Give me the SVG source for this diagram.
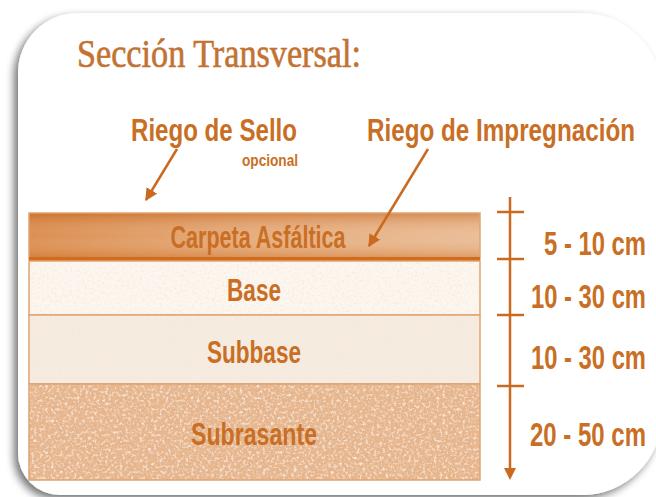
<svg xmlns="http://www.w3.org/2000/svg" width="656" height="497" viewBox="0 0 656 497">
  <defs>
    <style>
      .lbl { font-family: "Liberation Sans", Arial, sans-serif; font-weight: bold; fill: #c96f25; }
      .title { font-family: "Liberation Serif", "Times New Roman", serif; fill: #c27233; stroke: #c27233; stroke-width: 0.6; }
      .conn { stroke: #c96a20; stroke-width: 2.5; fill: none; }
      .tick { stroke: #c96a20; stroke-width: 2.5; }
      .edge { stroke: #e0a470; stroke-width: 1.5; fill: none; }
    </style>
    <filter id="shadow" x="-10%" y="-10%" width="120%" height="120%">
      <feGaussianBlur in="SourceAlpha" stdDeviation="4"/>
      <feOffset dx="-4" dy="4" result="b"/>
      <feComponentTransfer><feFuncA type="linear" slope="0.55"/></feComponentTransfer>
      <feMerge><feMergeNode/><feMergeNode in="SourceGraphic"/></feMerge>
    </filter>
    <filter id="speck" x="0" y="0" width="100%" height="100%">
      <feTurbulence type="fractalNoise" baseFrequency="0.45" numOctaves="3" seed="4" result="n"/>
      <feColorMatrix in="n" type="matrix" values="0 0 0 0 0.82  0 0 0 0 0.56  0 0 0 0 0.36  0 0 0 2.6 -1.25" result="c"/>
      <feComposite in="c" in2="SourceGraphic" operator="in" result="t"/>
      <feTurbulence type="fractalNoise" baseFrequency="0.35" numOctaves="3" seed="11" result="n2"/>
      <feColorMatrix in="n2" type="matrix" values="0 0 0 0 0.97  0 0 0 0 0.86  0 0 0 0 0.76  0 0 0 2.6 -1.3" result="c2"/>
      <feComposite in="c2" in2="SourceGraphic" operator="in" result="t2"/>
      <feMerge><feMergeNode in="SourceGraphic"/><feMergeNode in="t"/><feMergeNode in="t2"/></feMerge>
    </filter>
    <filter id="speckLight" x="0" y="0" width="100%" height="100%">
      <feTurbulence type="fractalNoise" baseFrequency="0.4" numOctaves="3" seed="7" result="n"/>
      <feColorMatrix in="n" type="matrix" values="0 0 0 0 0.90  0 0 0 0 0.80  0 0 0 0 0.70  0 0 0 2 -1.0" result="c"/>
      <feComposite in="c" in2="SourceGraphic" operator="in" result="t"/>
      <feMerge><feMergeNode in="SourceGraphic"/><feMergeNode in="t"/></feMerge>
    </filter>
    <linearGradient id="carpH" x1="0" y1="0" x2="1" y2="0">
      <stop offset="0" stop-color="#d6803a"/>
      <stop offset="0.5" stop-color="#e3a26c"/>
      <stop offset="1" stop-color="#e8b58a"/>
    </linearGradient>
    <linearGradient id="carpV" x1="0" y1="0" x2="0" y2="1">
      <stop offset="0" stop-color="#c25e15" stop-opacity="0.45"/>
      <stop offset="0.5" stop-color="#ffffff" stop-opacity="0.12"/>
      <stop offset="1" stop-color="#d2762c" stop-opacity="0.5"/>
    </linearGradient>
    <marker id="ah" viewBox="0 0 10 10" refX="9" refY="5" markerWidth="5" markerHeight="5" orient="auto" markerUnits="strokeWidth">
      <path d="M0,0 L10,5 L0,10 z" fill="#c96a20"/>
    </marker>
  </defs>

  <rect width="656" height="497" fill="#ffffff"/>

  <g id="card" filter="url(#shadow)">
    <path d="M78,13 H582 A80,80 0 0 1 662,93 V415 A80,80 0 0 1 582,495 H60 A42,42 0 0 1 18,453 V73 A60,60 0 0 1 78,13 Z" fill="#ffffff"/>
  </g>

  <g id="title">
    <text class="title" x="77" y="67" font-size="39" textLength="284" lengthAdjust="spacingAndGlyphs">Sección Transversal:</text>
  </g>

  <g id="layer-carpeta">
    <rect x="29" y="213" width="451" height="46" fill="url(#carpH)"/>
    <rect x="29" y="213" width="451" height="46" fill="url(#carpV)"/>
    <rect x="29" y="213" width="451" height="46" class="edge"/>
    <line x1="29" y1="259" x2="480" y2="259" stroke="#cf6c1f" stroke-width="4"/>
    <text class="lbl" x="258" y="248" font-size="31" text-anchor="middle" textLength="175" lengthAdjust="spacingAndGlyphs">Carpeta Asfáltica</text>
  </g>

  <g id="layer-base">
    <rect x="29" y="261" width="451" height="54" fill="#fcf6ef" filter="url(#speckLight)"/>
    <rect x="29" y="261" width="451" height="54" class="edge"/>
    <text class="lbl" x="254" y="301" font-size="31" text-anchor="middle" textLength="54" lengthAdjust="spacingAndGlyphs">Base</text>
  </g>

  <g id="layer-subbase">
    <rect x="29" y="315" width="451" height="69" fill="#f6ebe0" filter="url(#speckLight)"/>
    <rect x="29" y="315" width="451" height="69" class="edge"/>
    <text class="lbl" x="254" y="363" font-size="31" text-anchor="middle" textLength="94" lengthAdjust="spacingAndGlyphs">Subbase</text>
  </g>

  <g id="layer-subrasante">
    <rect x="29" y="384" width="451" height="96" fill="#e6b48b" filter="url(#speck)"/>
    <rect x="29" y="384" width="451" height="96" class="edge"/>
    <text class="lbl" x="254" y="445" font-size="31" text-anchor="middle" textLength="126" lengthAdjust="spacingAndGlyphs">Subrasante</text>
  </g>

  <g id="riego-sello">
    <text class="lbl" x="131" y="141" font-size="32" textLength="166" lengthAdjust="spacingAndGlyphs">Riego de Sello</text>
    <text class="lbl" x="242" y="166" font-size="16" textLength="56" lengthAdjust="spacingAndGlyphs">opcional</text>
  </g>

  <g id="riego-impregnacion">
    <text class="lbl" transform="translate(367,141) scale(1,1.32)" font-size="24.2" textLength="268" lengthAdjust="spacingAndGlyphs">Riego de Impregnación</text>
  </g>

  <g id="scale">
    <line class="tick" x1="510" y1="197" x2="510" y2="470"/>
    <path d="M504,468 L516,468 L510,480 Z" fill="#c96a20"/>
    <line class="tick" x1="497" y1="212" x2="524" y2="212"/>
    <line class="tick" x1="497" y1="259" x2="524" y2="259"/>
    <line class="tick" x1="497" y1="315" x2="524" y2="315"/>
    <line class="tick" x1="497" y1="386" x2="524" y2="386"/>
    <text class="lbl" transform="translate(646,255) scale(1,1.43)" font-size="23.8" text-anchor="end" textLength="102" lengthAdjust="spacingAndGlyphs">5 - 10 cm</text>
    <text class="lbl" transform="translate(646,308) scale(1,1.43)" font-size="23.8" text-anchor="end" textLength="115" lengthAdjust="spacingAndGlyphs">10 - 30 cm</text>
    <text class="lbl" transform="translate(646,369) scale(1,1.43)" font-size="23.8" text-anchor="end" textLength="115" lengthAdjust="spacingAndGlyphs">10 - 30 cm</text>
    <text class="lbl" transform="translate(646,446) scale(1,1.42)" font-size="24" text-anchor="end" textLength="116" lengthAdjust="spacingAndGlyphs">20 - 50 cm</text>
  </g>

  <g id="connectors">
    <line class="conn" x1="177" y1="149" x2="146" y2="200" marker-end="url(#ah)"/>
    <line class="conn" x1="428" y1="149" x2="369" y2="246" marker-end="url(#ah)"/>
  </g>
</svg>
